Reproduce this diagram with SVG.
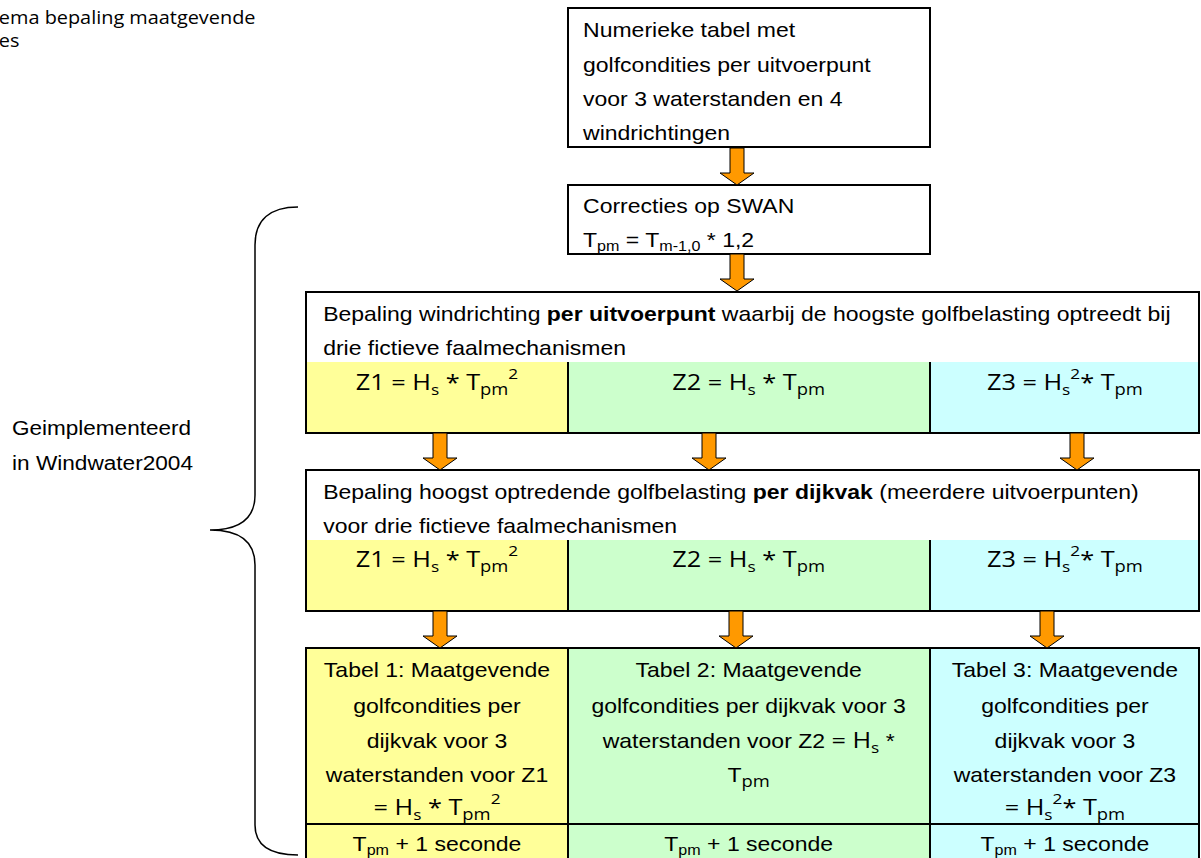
<svg xmlns="http://www.w3.org/2000/svg" xmlns:xlink="http://www.w3.org/1999/xlink" width="1201" height="858" viewBox="0 0 1201 858">
<style>
.box{fill:#FFFFFF;stroke:#000;stroke-width:2}
.frame{fill:none;stroke:#000;stroke-width:2}
.ln{stroke:#000;stroke-width:2}
.y{fill:#FFFF99}.g{fill:#CCFFCC}.c{fill:#CCFFFF}
.a{font-family:"Liberation Sans",Arial,sans-serif;font-size:20px;fill:#000}
.f{font-family:"Open Sans","Noto Sans",sans-serif;font-size:22px;fill:#000}
.fi{font-family:"Open Sans","Noto Sans",sans-serif}
.mid{text-anchor:middle}
.arr{fill:#FF9900;stroke:#000;stroke-width:1}
.brace{fill:none;stroke:#000;stroke-width:1.5}
</style>
<defs>
<path id="arr" d="M-7,0 H7 V25 H17 L0,37 L-17,25 H-7 Z"/>
</defs>
<rect width="1201" height="858" fill="#FFFFFF"/>

<g id="title">
<text class="fi" transform="scale(1.15,1)" x="-1" y="24" font-size="17.3">ema bepaling maatgevende</text>
<text class="fi" transform="scale(1.15,1)" x="-1" y="47" font-size="17.3">es</text>
</g>

<g id="label">
<text class="a" x="12" y="435" textLength="179" lengthAdjust="spacingAndGlyphs">Geimplementeerd</text>
<text class="a" x="12" y="470" textLength="181" lengthAdjust="spacingAndGlyphs">in Windwater2004</text>
</g>

<g id="brace">
<path class="brace" d="M298,207 C270,207 255,220 255,245 L255,495 C255,518 240,530 210,530 C240,530 255,542 255,565 L255,825 C255,845 270,855 298,855"/>
</g>

<g id="n1">
<rect class="box" x="568" y="8" width="362" height="139"/>
<g transform="scale(1.15,1)">
<text class="a" x="507" y="37">Numerieke tabel met</text>
<text class="a" x="507" y="72">golfcondities per uitvoerpunt</text>
<text class="a" x="507" y="106">voor 3 waterstanden en 4</text>
<text class="a" x="507" y="140">windrichtingen</text>
</g>
</g>

<g id="n2">
<rect class="box" x="568" y="185" width="362" height="69"/>
<g transform="scale(1.15,1)">
<text class="a" x="507" y="213">Correcties op SWAN</text>
<text class="a" x="507" y="247">T<tspan font-size="14" dy="4">pm</tspan><tspan dy="-4"> = T</tspan><tspan font-size="14" dy="4">m-1,0</tspan><tspan dy="-4"> * 1,2</tspan></text>
</g>
</g>

<g id="n3">
<rect class="box" x="306" y="292" width="893" height="141"/>
<rect class="y" x="307" y="362" width="261" height="70"/>
<rect class="g" x="568" y="362" width="362" height="70"/>
<rect class="c" x="930" y="362" width="268" height="70"/>
<line class="ln" x1="568" y1="362" x2="568" y2="433"/>
<line class="ln" x1="930" y1="362" x2="930" y2="433"/>
<rect class="frame" x="306" y="292" width="893" height="141"/>
<g transform="scale(1.15,1)">
<text class="a" x="281" y="321">Bepaling windrichting <tspan font-weight="bold">per uitvoerpunt</tspan> waarbij de hoogste golfbelasting optreedt bij</text>
<text class="a" x="281" y="355">drie fictieve faalmechanismen</text>
<text class="f mid" x="380" y="390">Z1 = H<tspan font-size="15" dy="5">s</tspan><tspan dy="-5"> * T</tspan><tspan font-size="16" dy="5">pm</tspan><tspan font-size="15" dy="-16">2</tspan></text>
<text class="f mid" x="651" y="390">Z2 = H<tspan font-size="15" dy="5">s</tspan><tspan dy="-5"> * T</tspan><tspan font-size="16" dy="5">pm</tspan></text>
<text class="f mid" x="926" y="390">Z3 = H<tspan font-size="15" dy="5">s</tspan><tspan font-size="15" dy="-16">2</tspan><tspan dy="11">* T</tspan><tspan font-size="16" dy="5">pm</tspan></text>
</g>
</g>

<g id="n4">
<rect class="box" x="306" y="470" width="893" height="141"/>
<rect class="y" x="307" y="540" width="261" height="70"/>
<rect class="g" x="568" y="540" width="362" height="70"/>
<rect class="c" x="930" y="540" width="268" height="70"/>
<line class="ln" x1="568" y1="540" x2="568" y2="611"/>
<line class="ln" x1="930" y1="540" x2="930" y2="611"/>
<rect class="frame" x="306" y="470" width="893" height="141"/>
<g transform="scale(1.15,1)">
<text class="a" x="281" y="499">Bepaling hoogst optredende golfbelasting <tspan font-weight="bold">per dijkvak</tspan> (meerdere uitvoerpunten)</text>
<text class="a" x="281" y="533">voor drie fictieve faalmechanismen</text>
<text class="f mid" x="380" y="567">Z1 = H<tspan font-size="15" dy="5">s</tspan><tspan dy="-5"> * T</tspan><tspan font-size="16" dy="5">pm</tspan><tspan font-size="15" dy="-16">2</tspan></text>
<text class="f mid" x="651" y="567">Z2 = H<tspan font-size="15" dy="5">s</tspan><tspan dy="-5"> * T</tspan><tspan font-size="16" dy="5">pm</tspan></text>
<text class="f mid" x="926" y="567">Z3 = H<tspan font-size="15" dy="5">s</tspan><tspan font-size="15" dy="-16">2</tspan><tspan dy="11">* T</tspan><tspan font-size="16" dy="5">pm</tspan></text>
</g>
</g>

<g id="t1">
<rect class="y" x="306" y="648" width="262" height="220"/>
<g transform="scale(1.15,1)">
<text class="a mid" x="380" y="677">Tabel 1: Maatgevende</text>
<text class="a mid" x="380" y="713">golfcondities per</text>
<text class="a mid" x="380" y="748">dijkvak voor 3</text>
<text class="a mid" x="380" y="782">waterstanden voor Z1</text>
<text class="f mid" x="380" y="815">= H<tspan font-size="15" dy="5">s</tspan><tspan dy="-5"> * T</tspan><tspan font-size="16" dy="5">pm</tspan><tspan font-size="15" dy="-16">2</tspan></text>
<text class="a mid" x="380" y="851">T<tspan font-size="14" dy="4">pm</tspan><tspan dy="-4"> + 1 seconde</tspan></text>
</g>
</g>

<g id="t2">
<rect class="g" x="568" y="648" width="362" height="220"/>
<g transform="scale(1.15,1)">
<text class="a mid" x="651" y="677">Tabel 2: Maatgevende</text>
<text class="a mid" x="651" y="713">golfcondities per dijkvak voor 3</text>
<text class="a mid" x="651" y="748">waterstanden voor Z2 <tspan class="fi" font-size="22">= H</tspan><tspan class="fi" font-size="15" dy="5">s</tspan><tspan dy="-5"> *</tspan></text>
<text class="a mid" x="651" y="782">T<tspan class="fi" font-size="16" dy="5">pm</tspan></text>
<text class="a mid" x="651" y="851">T<tspan font-size="14" dy="4">pm</tspan><tspan dy="-4"> + 1 seconde</tspan></text>
</g>
</g>

<g id="t3">
<rect class="c" x="930" y="648" width="269" height="220"/>
<g transform="scale(1.15,1)">
<text class="a mid" x="926" y="677">Tabel 3: Maatgevende</text>
<text class="a mid" x="926" y="713">golfcondities per</text>
<text class="a mid" x="926" y="748">dijkvak voor 3</text>
<text class="a mid" x="926" y="782">waterstanden voor Z3</text>
<text class="f mid" x="926" y="815">= H<tspan font-size="15" dy="5">s</tspan><tspan font-size="15" dy="-16">2</tspan><tspan dy="11">* T</tspan><tspan font-size="16" dy="5">pm</tspan></text>
<text class="a mid" x="926" y="851">T<tspan font-size="14" dy="4">pm</tspan><tspan dy="-4"> + 1 seconde</tspan></text>
</g>
</g>

<g id="table-lines">
<line class="ln" x1="568" y1="648" x2="568" y2="868"/>
<line class="ln" x1="930" y1="648" x2="930" y2="868"/>
<line class="ln" x1="306" y1="824" x2="1199" y2="824"/>
<rect class="frame" x="306" y="648" width="893" height="220"/>
</g>

<g id="connectors">
<use xlink:href="#arr" class="arr" x="737" y="148"/>
<use xlink:href="#arr" class="arr" x="737" y="254"/>
<use xlink:href="#arr" class="arr" x="440" y="433"/>
<use xlink:href="#arr" class="arr" x="709" y="433"/>
<use xlink:href="#arr" class="arr" x="1077" y="433"/>
<use xlink:href="#arr" class="arr" x="440" y="611"/>
<use xlink:href="#arr" class="arr" x="736" y="611"/>
<use xlink:href="#arr" class="arr" x="1047" y="611"/>
</g>
</svg>
